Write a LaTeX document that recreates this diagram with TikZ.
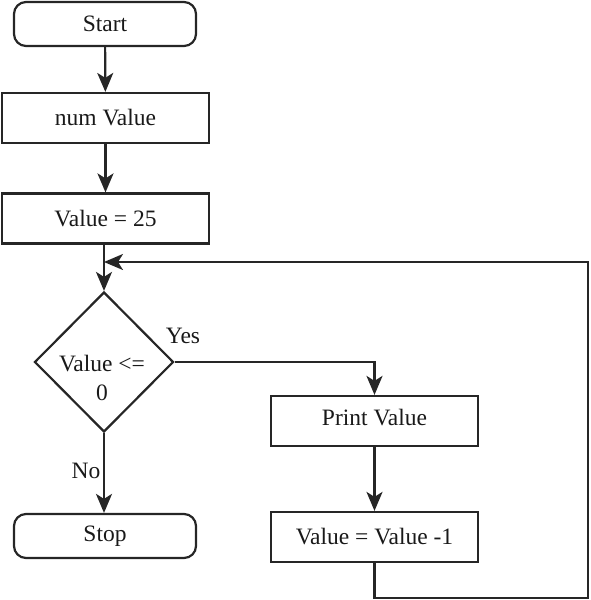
\documentclass[tikz,border=0pt]{standalone}
\usepackage{fontspec}
\setmainfont{Liberation Serif}
\usetikzlibrary{shapes.geometric,arrows.meta}
\begin{document}
\begin{tikzpicture}[x=1pt,y=-1pt,
  every node/.style={font=\fontsize{23.5}{29}\selectfont, text=black!90},
  line/.style={line width=2.2pt, draw=black!85},
  arr/.style={line, -{Stealth[length=19pt,width=16pt,inset=5pt]}},
  term/.style={line, rounded corners=12pt, minimum width=182pt, minimum height=44pt, inner sep=0pt},
  proc/.style={line, minimum width=207pt, minimum height=50pt, inner sep=0pt},
  dec/.style={line, diamond, minimum width=139pt, minimum height=140pt, inner sep=0pt}]
\useasboundingbox (0,0) rectangle (590,600);
\node[term] (start) at (105,24) {\raisebox{-2pt}{Start}};
\node[proc] (num) at (105.5,118) {num Value};
\node[proc] (v25) at (105.5,218.5) {Value = 25};
\node[dec] (dec) at (104,362) {};
\node[align=center] (dtext) at (102,378) {Value <=\\0};
\node[term] (stop) at (105,536) {Stop};
\node[proc] (print) at (374.5,421) {\raisebox{7pt}{Print Value}};
\node[proc] (dec1) at (374.5,537) {Value = Value -1};
\node (yes) at (183,336) {Yes};
\node (no) at (86,471) {No};
\coordinate (j) at (104,262);
\coordinate (c2) at (588,598);
\coordinate (c3) at (588,262);
\draw[arr] (start) -- (num);
\draw[arr] (num) -- (v25);
\draw[line] (v25.south -| dec.north) -- (j);
\draw[arr] (j) -- (dec.north);
\draw[arr] (dec.south) -- (stop.north -| dec.south);
\draw[arr] (dec.east) -- (dec.east -| print.north) -- (print.north);
\draw[arr] (print) -- (dec1);
\draw[arr] (dec1.south) -- (dec1.south |- c2) -- (c2) -- (c3) -- (j);
\end{tikzpicture}
\end{document}
